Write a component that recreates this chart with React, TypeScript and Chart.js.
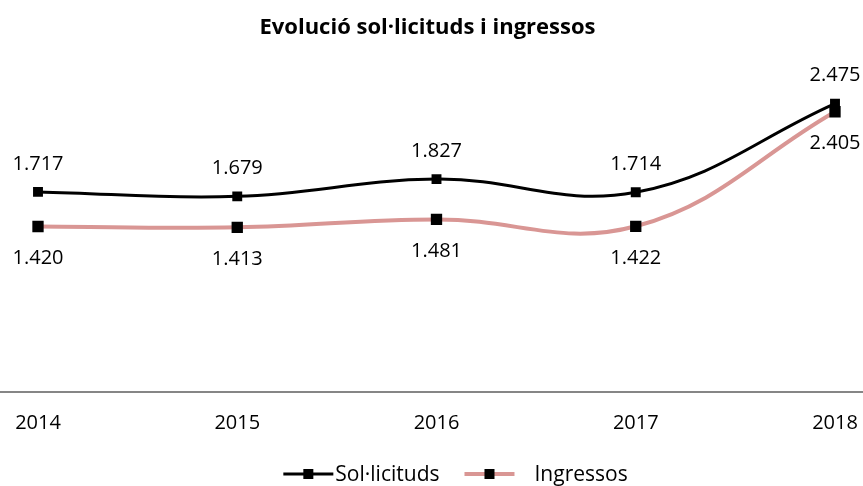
import React, { useEffect, useRef } from "react";
import { Chart, registerables } from "chart.js";

Chart.register(...registerables);

const years = ["2014", "2015", "2016", "2017", "2018"];
const solicituds = [1717, 1679, 1827, 1714, 2475];
const ingressos = [1420, 1413, 1481, 1422, 2405];
const seriesNames = ["Sol·licituds", "Ingressos"];
const titleText = "Evolució sol·licituds i ingressos";

const FONT = "'Open Sans', 'Noto Sans', sans-serif";
const BLACK = "#000000";
const PINK = "#D99694";

function fmt(v: number): string {
  const s = String(Math.round(v));
  return s.replace(/\B(?=(\d{3})+(?!\d))/g, ".");
}

const labelsPlugin = {
  id: "valueLabels",
  afterDatasetsDraw(chart: any) {
    const ctx = chart.ctx;
    ctx.save();
    ctx.font = `20px ${FONT}`;
    ctx.fillStyle = "#000";
    ctx.textAlign = "center";
    ctx.textBaseline = "middle";
    chart.data.datasets.forEach((ds: any, di: number) => {
      const meta = chart.getDatasetMeta(di);
      meta.data.forEach((pt: any, i: number) => {
        const dy = di === 0 ? -28 : 32;
        ctx.fillText(fmt(ds.data[i]), pt.x, pt.y + dy);
      });
    });
    ctx.restore();
  },
};

const axisPlugin = {
  id: "fullAxis",
  beforeDatasetsDraw(chart: any) {
    const ctx = chart.ctx;
    const y = chart.chartArea.bottom;
    ctx.save();
    ctx.strokeStyle = "#868686";
    ctx.lineWidth = 2;
    ctx.beginPath();
    ctx.moveTo(0, y);
    ctx.lineTo(chart.width, y);
    ctx.stroke();
    ctx.restore();
  },
};

const legendPlugin = {
  id: "customLegend",
  afterDraw(chart: any) {
    const ctx = chart.ctx;
    ctx.save();
    ctx.font = `21px ${FONT}`;
    ctx.textBaseline = "middle";
    ctx.textAlign = "left";
    const lineLen = 50;
    const gapText = 2;
    const gapItem = 25;
    const colors = [BLACK, PINK];
    const widths = [3, 4];
    const texts = seriesNames;
    const tw = texts.map((t) => ctx.measureText(t).width);
    const pre2 = 20;
    const total = lineLen + gapText + tw[0] + gapItem + lineLen + pre2 + tw[1];
    let x = (chart.width - total) / 2 + 24;
    const y = 474;
    for (let i = 0; i < 2; i++) {
      ctx.strokeStyle = colors[i];
      ctx.lineWidth = widths[i];
      ctx.beginPath();
      ctx.moveTo(x, y);
      ctx.lineTo(x + lineLen, y);
      ctx.stroke();
      ctx.fillStyle = "#000";
      ctx.fillRect(x + lineLen / 2 - 5, y - 5, 10, 10);
      x += lineLen + (i === 0 ? gapText : pre2);
      ctx.fillText(texts[i], x, y + 1);
      x += tw[i] + gapItem;
    }
    ctx.restore();
  },
};

export default function App() {
  const ref = useRef<HTMLCanvasElement>(null);
  useEffect(() => {
    if (!ref.current) return;
    const chart = new Chart(ref.current, {
      type: "line",
      data: {
        labels: years,
        datasets: [
          {
            label: seriesNames[0],
            data: solicituds,
            borderColor: BLACK,
            backgroundColor: BLACK,
            borderWidth: 3,
            tension: 0.4,
            pointStyle: "rect",
            pointRadius: 7,
            pointBackgroundColor: BLACK,
            pointBorderWidth: 0,
          },
          {
            label: seriesNames[1],
            data: ingressos,
            borderColor: PINK,
            backgroundColor: PINK,
            borderWidth: 4,
            tension: 0.4,
            pointStyle: "rect",
            pointRadius: 8,
            pointBackgroundColor: BLACK,
            pointBorderWidth: 0,
          },
        ],
      },
      plugins: [axisPlugin, labelsPlugin, legendPlugin],
      options: {
        animation: false,
        responsive: false,
        layout: { padding: { left: 0, right: 8, top: 0, bottom: 0 } },
        plugins: {
          legend: { display: false },
          tooltip: { enabled: false },
          title: {
            display: true,
            text: titleText,
            color: "#000",
            font: { family: FONT, size: 22, weight: "bold" },
            padding: { top: 15, bottom: 1 },
          },
        },
        scales: {
          x: {
            offset: false,
            grid: { display: false },
            border: { display: false },
            ticks: {
              color: "#000",
              font: { family: FONT, size: 20 },
              padding: 11,
              maxRotation: 0,
            },
            afterFit(scale: any) {
              scale.height = 94;
              scale.paddingLeft = 38;
              scale.paddingRight = 28;
            },
          },
          y: {
            display: false,
            min: 0,
            max: 3000,
          },
        },
      } as any,
    });
    return () => chart.destroy();
  }, []);
  return (
    <div style={{ position: "fixed", left: 0, top: 0, width: 863, height: 486, background: "#fff" }}>
      <canvas ref={ref} width={863} height={486} style={{ width: 863, height: 486, display: "block" }} />
    </div>
  );
}
